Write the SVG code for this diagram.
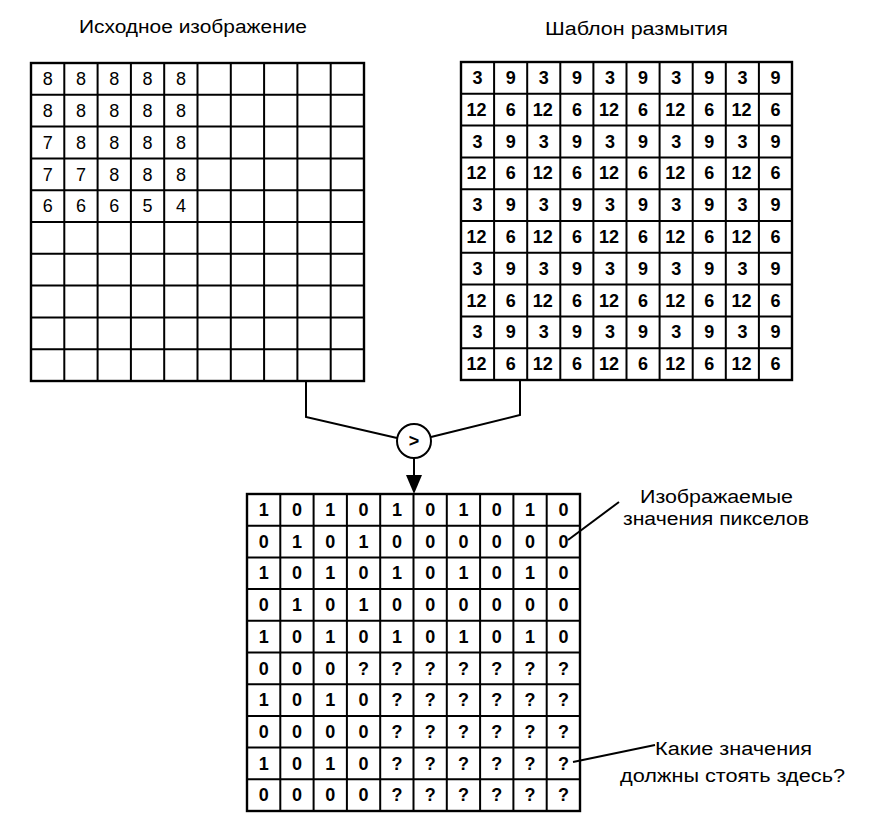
<svg xmlns="http://www.w3.org/2000/svg" width="882" height="813" viewBox="0 0 882 813">
<style>
.g{fill:none;stroke:#000;stroke-width:2}
.o{fill:none;stroke:#000;stroke-width:2.4}
.c{stroke:#000;stroke-width:2;fill:none}
.t{font-family:"Liberation Sans",Arial,sans-serif;font-size:18px;fill:#000}
.n{font-family:"Liberation Sans",Arial,sans-serif;font-size:18px;fill:#000;text-anchor:middle}
.b{font-weight:bold}
</style>
<defs>
<marker id="ah" markerWidth="16" markerHeight="20" refX="8" refY="19" orient="auto" markerUnits="userSpaceOnUse" viewBox="0 0 16 20">
<path d="M0 0 L16 0 L8 20 Z" fill="#000" transform="rotate(-90 8 10) translate(0 0)"/>
</marker>
</defs>
<rect width="882" height="813" fill="#fff"/>

<g id="source-title"><text class="t" x="79" y="33" textLength="228" lengthAdjust="spacingAndGlyphs">Исходное изображение</text></g>
<g id="mask-title"><text class="t" x="545" y="35" textLength="183" lengthAdjust="spacingAndGlyphs">Шаблон размытия</text></g>

<g id="source-grid">
<path class="g" d="M64.3 63V381M97.6 63V381M130.9 63V381M164.2 63V381M197.5 63V381M230.8 63V381M264.1 63V381M297.4 63V381M330.7 63V381M31 94.8H364M31 126.6H364M31 158.4H364M31 190.2H364M31 222H364M31 253.8H364M31 285.6H364M31 317.4H364M31 349.2H364"/>
<rect class="o" x="31" y="63" width="333" height="318"/>
<g class="n">
<text x="47.7 81 114.3 147.6 180.9" y="85">88888</text>
<text x="47.7 81 114.3 147.6 180.9" y="117">88888</text>
<text x="47.7 81 114.3 147.6 180.9" y="149">78888</text>
<text x="47.7 81 114.3 147.6 180.9" y="180.5">77888</text>
<text x="47.7 81 114.3 147.6 180.9" y="212">66654</text>
</g>
</g>

<g id="mask-grid">
<path class="g" d="M494.1 62V380M527.2 62V380M560.3 62V380M593.4 62V380M626.5 62V380M659.6 62V380M692.7 62V380M725.8 62V380M758.9 62V380M461 93.8H792M461 125.6H792M461 157.4H792M461 189.2H792M461 221H792M461 252.8H792M461 284.6H792M461 316.4H792M461 348.2H792"/>
<rect class="o" x="461" y="62" width="331" height="318"/>
<g class="n b">
<text x="477.6 510.7 543.8 576.9 610 643.1 676.2 709.3 742.4 775.5" y="84">3939393939</text>
<text x="471.6 481.6 510.7 537.8 547.8 576.9 604 614 643.1 670.2 680.2 709.3 736.4 746.4 775.5" y="116">126126126126126</text>
<text x="477.6 510.7 543.8 576.9 610 643.1 676.2 709.3 742.4 775.5" y="147.6">3939393939</text>
<text x="471.6 481.6 510.7 537.8 547.8 576.9 604 614 643.1 670.2 680.2 709.3 736.4 746.4 775.5" y="179.4">126126126126126</text>
<text x="477.6 510.7 543.8 576.9 610 643.1 676.2 709.3 742.4 775.5" y="211.2">3939393939</text>
<text x="471.6 481.6 510.7 537.8 547.8 576.9 604 614 643.1 670.2 680.2 709.3 736.4 746.4 775.5" y="243">126126126126126</text>
<text x="477.6 510.7 543.8 576.9 610 643.1 676.2 709.3 742.4 775.5" y="274.8">3939393939</text>
<text x="471.6 481.6 510.7 537.8 547.8 576.9 604 614 643.1 670.2 680.2 709.3 736.4 746.4 775.5" y="306.6">126126126126126</text>
<text x="477.6 510.7 543.8 576.9 610 643.1 676.2 709.3 742.4 775.5" y="338.4">3939393939</text>
<text x="471.6 481.6 510.7 537.8 547.8 576.9 604 614 643.1 670.2 680.2 709.3 736.4 746.4 775.5" y="370.2">126126126126126</text>
</g>
</g>

<g id="comparator">
<circle cx="414" cy="441" r="17" fill="#fff" stroke="#000" stroke-width="2"/>
<text class="n b" x="414" y="447">&gt;</text>
</g>

<g id="output-grid">
<path class="g" d="M280.3 494V811M313.6 494V811M346.9 494V811M380.2 494V811M413.5 494V811M446.8 494V811M480.1 494V811M513.4 494V811M546.7 494V811M247 525.7H580M247 557.4H580M247 589.1H580M247 620.8H580M247 652.5H580M247 684.2H580M247 715.9H580M247 747.6H580M247 779.3H580"/>
<rect class="o" x="247" y="494" width="333" height="317"/>
<g class="n b">
<text x="263.7 297 330.3 363.6 396.9 430.2 463.5 496.8 530.1 563.4" y="516">1010101010</text>
<text x="263.7 297 330.3 363.6 396.9 430.2 463.5 496.8 530.1 563.4" y="547.7">0101000000</text>
<text x="263.7 297 330.3 363.6 396.9 430.2 463.5 496.8 530.1 563.4" y="579.4">1010101010</text>
<text x="263.7 297 330.3 363.6 396.9 430.2 463.5 496.8 530.1 563.4" y="611.1">0101000000</text>
<text x="263.7 297 330.3 363.6 396.9 430.2 463.5 496.8 530.1 563.4" y="642.8">1010101010</text>
<text x="263.7 297 330.3 363.6 396.9 430.2 463.5 496.8 530.1 563.4" y="674.5">000???????</text>
<text x="263.7 297 330.3 363.6 396.9 430.2 463.5 496.8 530.1 563.4" y="706.2">1010??????</text>
<text x="263.7 297 330.3 363.6 396.9 430.2 463.5 496.8 530.1 563.4" y="737.9">0000??????</text>
<text x="263.7 297 330.3 363.6 396.9 430.2 463.5 496.8 530.1 563.4" y="769.6">1010??????</text>
<text x="263.7 297 330.3 363.6 396.9 430.2 463.5 496.8 530.1 563.4" y="801.3">0000??????</text>
</g>
</g>

<g id="label-displayed">
<text class="t" x="640" y="503" textLength="153" lengthAdjust="spacingAndGlyphs">Изображаемые</text>
<text class="t" x="623" y="525" textLength="186" lengthAdjust="spacingAndGlyphs">значения пикселов</text>
</g>
<g id="label-question">
<text class="t" x="655" y="755" textLength="157" lengthAdjust="spacingAndGlyphs">Какие значения</text>
<text class="t" x="620" y="782" textLength="225" lengthAdjust="spacingAndGlyphs">должны стоять здесь?</text>
</g>

<g id="connectors">
<path class="c" d="M306 381V417L397 438"/>
<path class="c" d="M520 380V415L431 437"/>
<path class="c" d="M414 458V476"/>
<path d="M406 475H422L414 494Z" fill="#000"/>
<path class="c" d="M619 502L568 540" stroke-width="1.6"/>
<path class="c" d="M655 745L573 762" stroke-width="1.6"/>
</g>
</svg>
